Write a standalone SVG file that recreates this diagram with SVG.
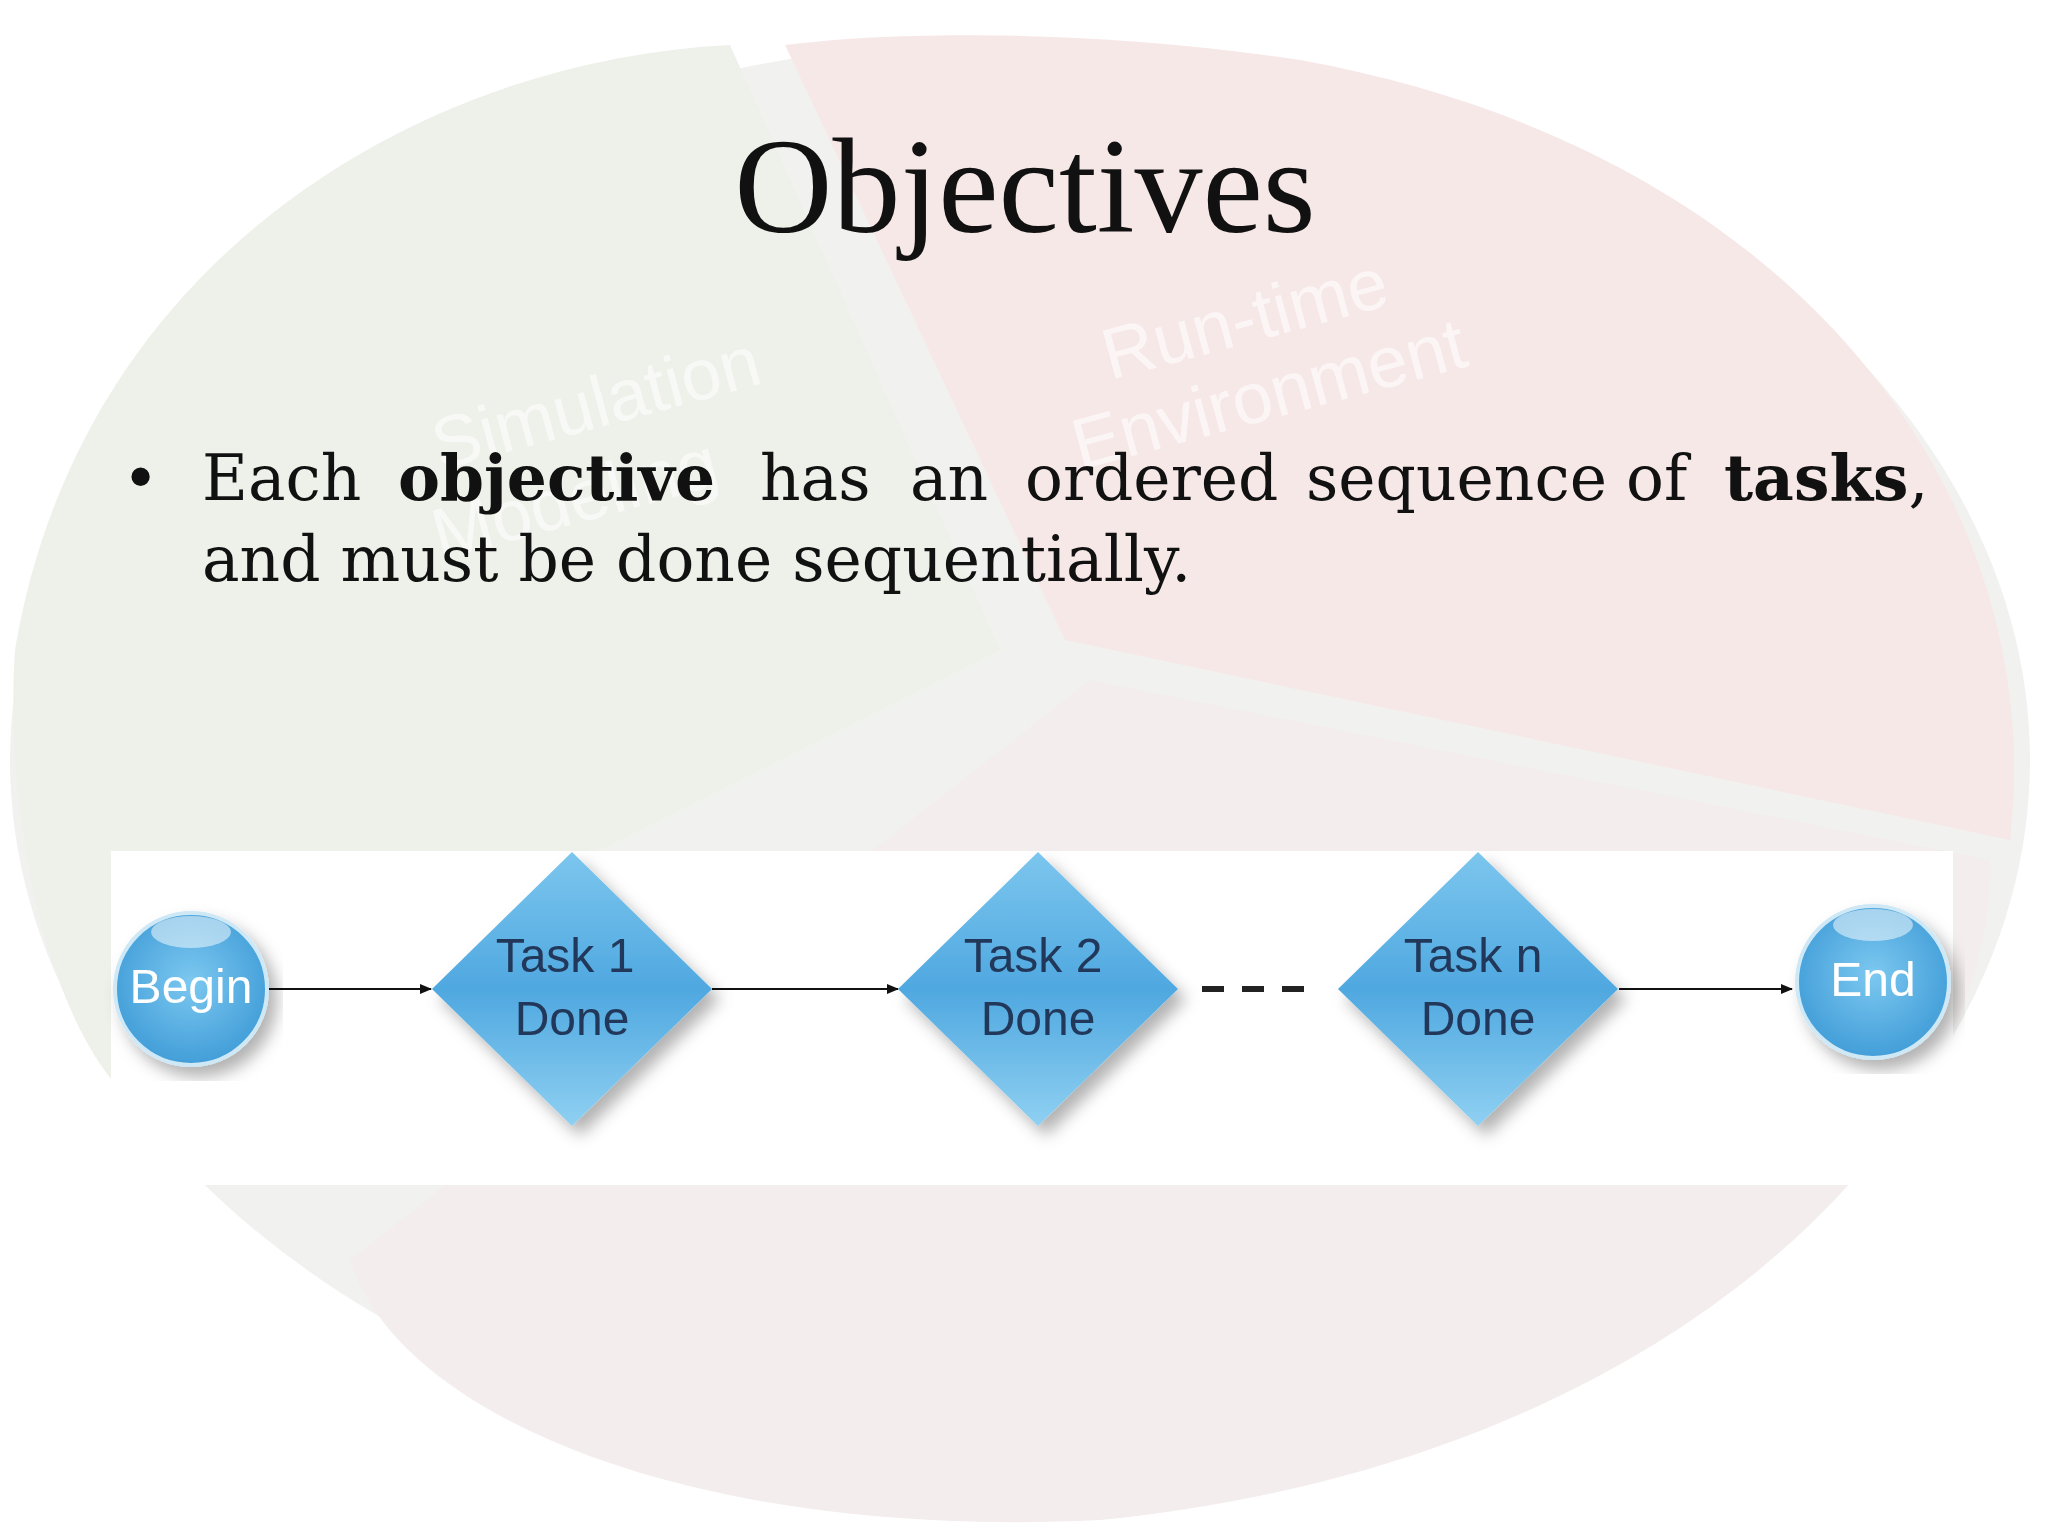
<svg xmlns="http://www.w3.org/2000/svg" width="2048" height="1536" viewBox="0 0 2048 1536">
<defs>
<style>
.t{font-family:"Liberation Serif","DejaVu Serif",serif;fill:#111}
.b{font-family:"DejaVu Serif","Liberation Serif",serif;fill:#111;font-size:63px}
.n{font-family:"Liberation Sans",Arial,sans-serif;font-size:48px;fill:#23395a;text-anchor:middle}
.c{stroke:#111;stroke-width:2;fill:none;marker-end:url(#ah)}
.bg{font-family:"Liberation Sans",Arial,sans-serif;font-size:72px;fill:#fff;opacity:0.6}
</style>
<marker id="ah" markerWidth="12" markerHeight="10" refX="11" refY="5" orient="auto" markerUnits="userSpaceOnUse"><path d="M0,0 L12,5 L0,10Z" fill="#111"/></marker>
<radialGradient id="blue" cx="50%" cy="45%" r="60%"><stop offset="0" stop-color="#7cc8f0"/><stop offset="1" stop-color="#3d9ad6"/></radialGradient>
<linearGradient id="dia" x1="0" y1="0" x2="0" y2="1"><stop offset="0" stop-color="#7cc6ee"/><stop offset="0.5" stop-color="#4fa8e0"/><stop offset="1" stop-color="#8fd0f2"/></linearGradient>
<filter id="sh"><feDropShadow dx="8" dy="10" stdDeviation="8" flood-color="#000" flood-opacity="0.3"/></filter>
</defs>
<rect width="2048" height="1536" fill="#fff"/>
<g id="background">
<ellipse cx="1020" cy="760" rx="1010" ry="720" fill="#f1f1ef"/>
<path d="M785 45 L1065 640 L2010 840 C2050 500 1800 150 1300 60 C1100 30 900 30 785 45Z" fill="#f7e8e8"/>
<path d="M730 45 C420 60 80 260 15 650 C5 800 40 1000 120 1090 L1000 650 Z" fill="#eef1ea"/>
<path d="M1090 680 L1990 860 C2000 1100 1700 1460 1100 1520 C700 1540 400 1420 350 1260 Z" fill="#f3eded"/>
<text class="bg" transform="translate(1110,380) rotate(-15)">Run-time</text>
<text class="bg" transform="translate(1080,470) rotate(-15)">Environment</text>
<text class="bg" transform="translate(440,470) rotate(-15)">Simulation</text>
<text class="bg" transform="translate(440,560) rotate(-15)">Modeling</text>
</g>
<g id="title"><text class="t" x="1025" y="232" font-size="136" text-anchor="middle">Objectives</text></g>
<g id="bullet">
<text class="b" x="122" y="500">•</text>
<text class="b" y="500"><tspan x="202">Each</tspan><tspan x="398" font-weight="bold">objective</tspan><tspan x="760">has</tspan><tspan x="910">an</tspan><tspan x="1025">ordered</tspan><tspan x="1306">sequence</tspan><tspan x="1626">of</tspan><tspan x="1724" font-weight="bold">tasks</tspan><tspan>,</tspan></text>
<text class="b" x="202" y="581">and must be done sequentially.</text>
</g>
<rect x="111" y="851" width="1842" height="334" fill="#fff"/>
<g id="connectors">
<line class="c" x1="268" y1="989" x2="431" y2="989"/>
<line class="c" x1="712" y1="989" x2="898" y2="989"/>
<line class="c" x1="1619" y1="989" x2="1792" y2="989"/>
<path d="M1202 989h22M1242 989h22M1282 989h22" stroke="#222" stroke-width="6"/>
</g>
<g id="begin" filter="url(#sh)"><circle cx="191" cy="989" r="76" fill="url(#blue)" stroke="#cfe8f6" stroke-width="4"/><ellipse cx="191" cy="932" rx="40" ry="16" fill="#fff" opacity="0.5"/><text class="n" x="191" y="1003" style="fill:#fff">Begin</text></g>
<g id="task1" filter="url(#sh)"><path d="M572 852 L712 989 L572 1126 L432 989Z" fill="url(#dia)"/><text class="n" x="565" y="972">Task 1</text><text class="n" x="572" y="1035">Done</text></g>
<g id="task2" filter="url(#sh)"><path d="M1038 852 L1178 989 L1038 1126 L898 989Z" fill="url(#dia)"/><text class="n" x="1033" y="972">Task 2</text><text class="n" x="1038" y="1035">Done</text></g>
<g id="taskn" filter="url(#sh)"><path d="M1478 852 L1618 989 L1478 1126 L1338 989Z" fill="url(#dia)"/><text class="n" x="1473" y="972">Task n</text><text class="n" x="1478" y="1035">Done</text></g>
<g id="end" filter="url(#sh)"><circle cx="1873" cy="982" r="76" fill="url(#blue)" stroke="#cfe8f6" stroke-width="4"/><ellipse cx="1873" cy="925" rx="40" ry="16" fill="#fff" opacity="0.5"/><text class="n" x="1873" y="996" style="fill:#fff">End</text></g>
</svg>
